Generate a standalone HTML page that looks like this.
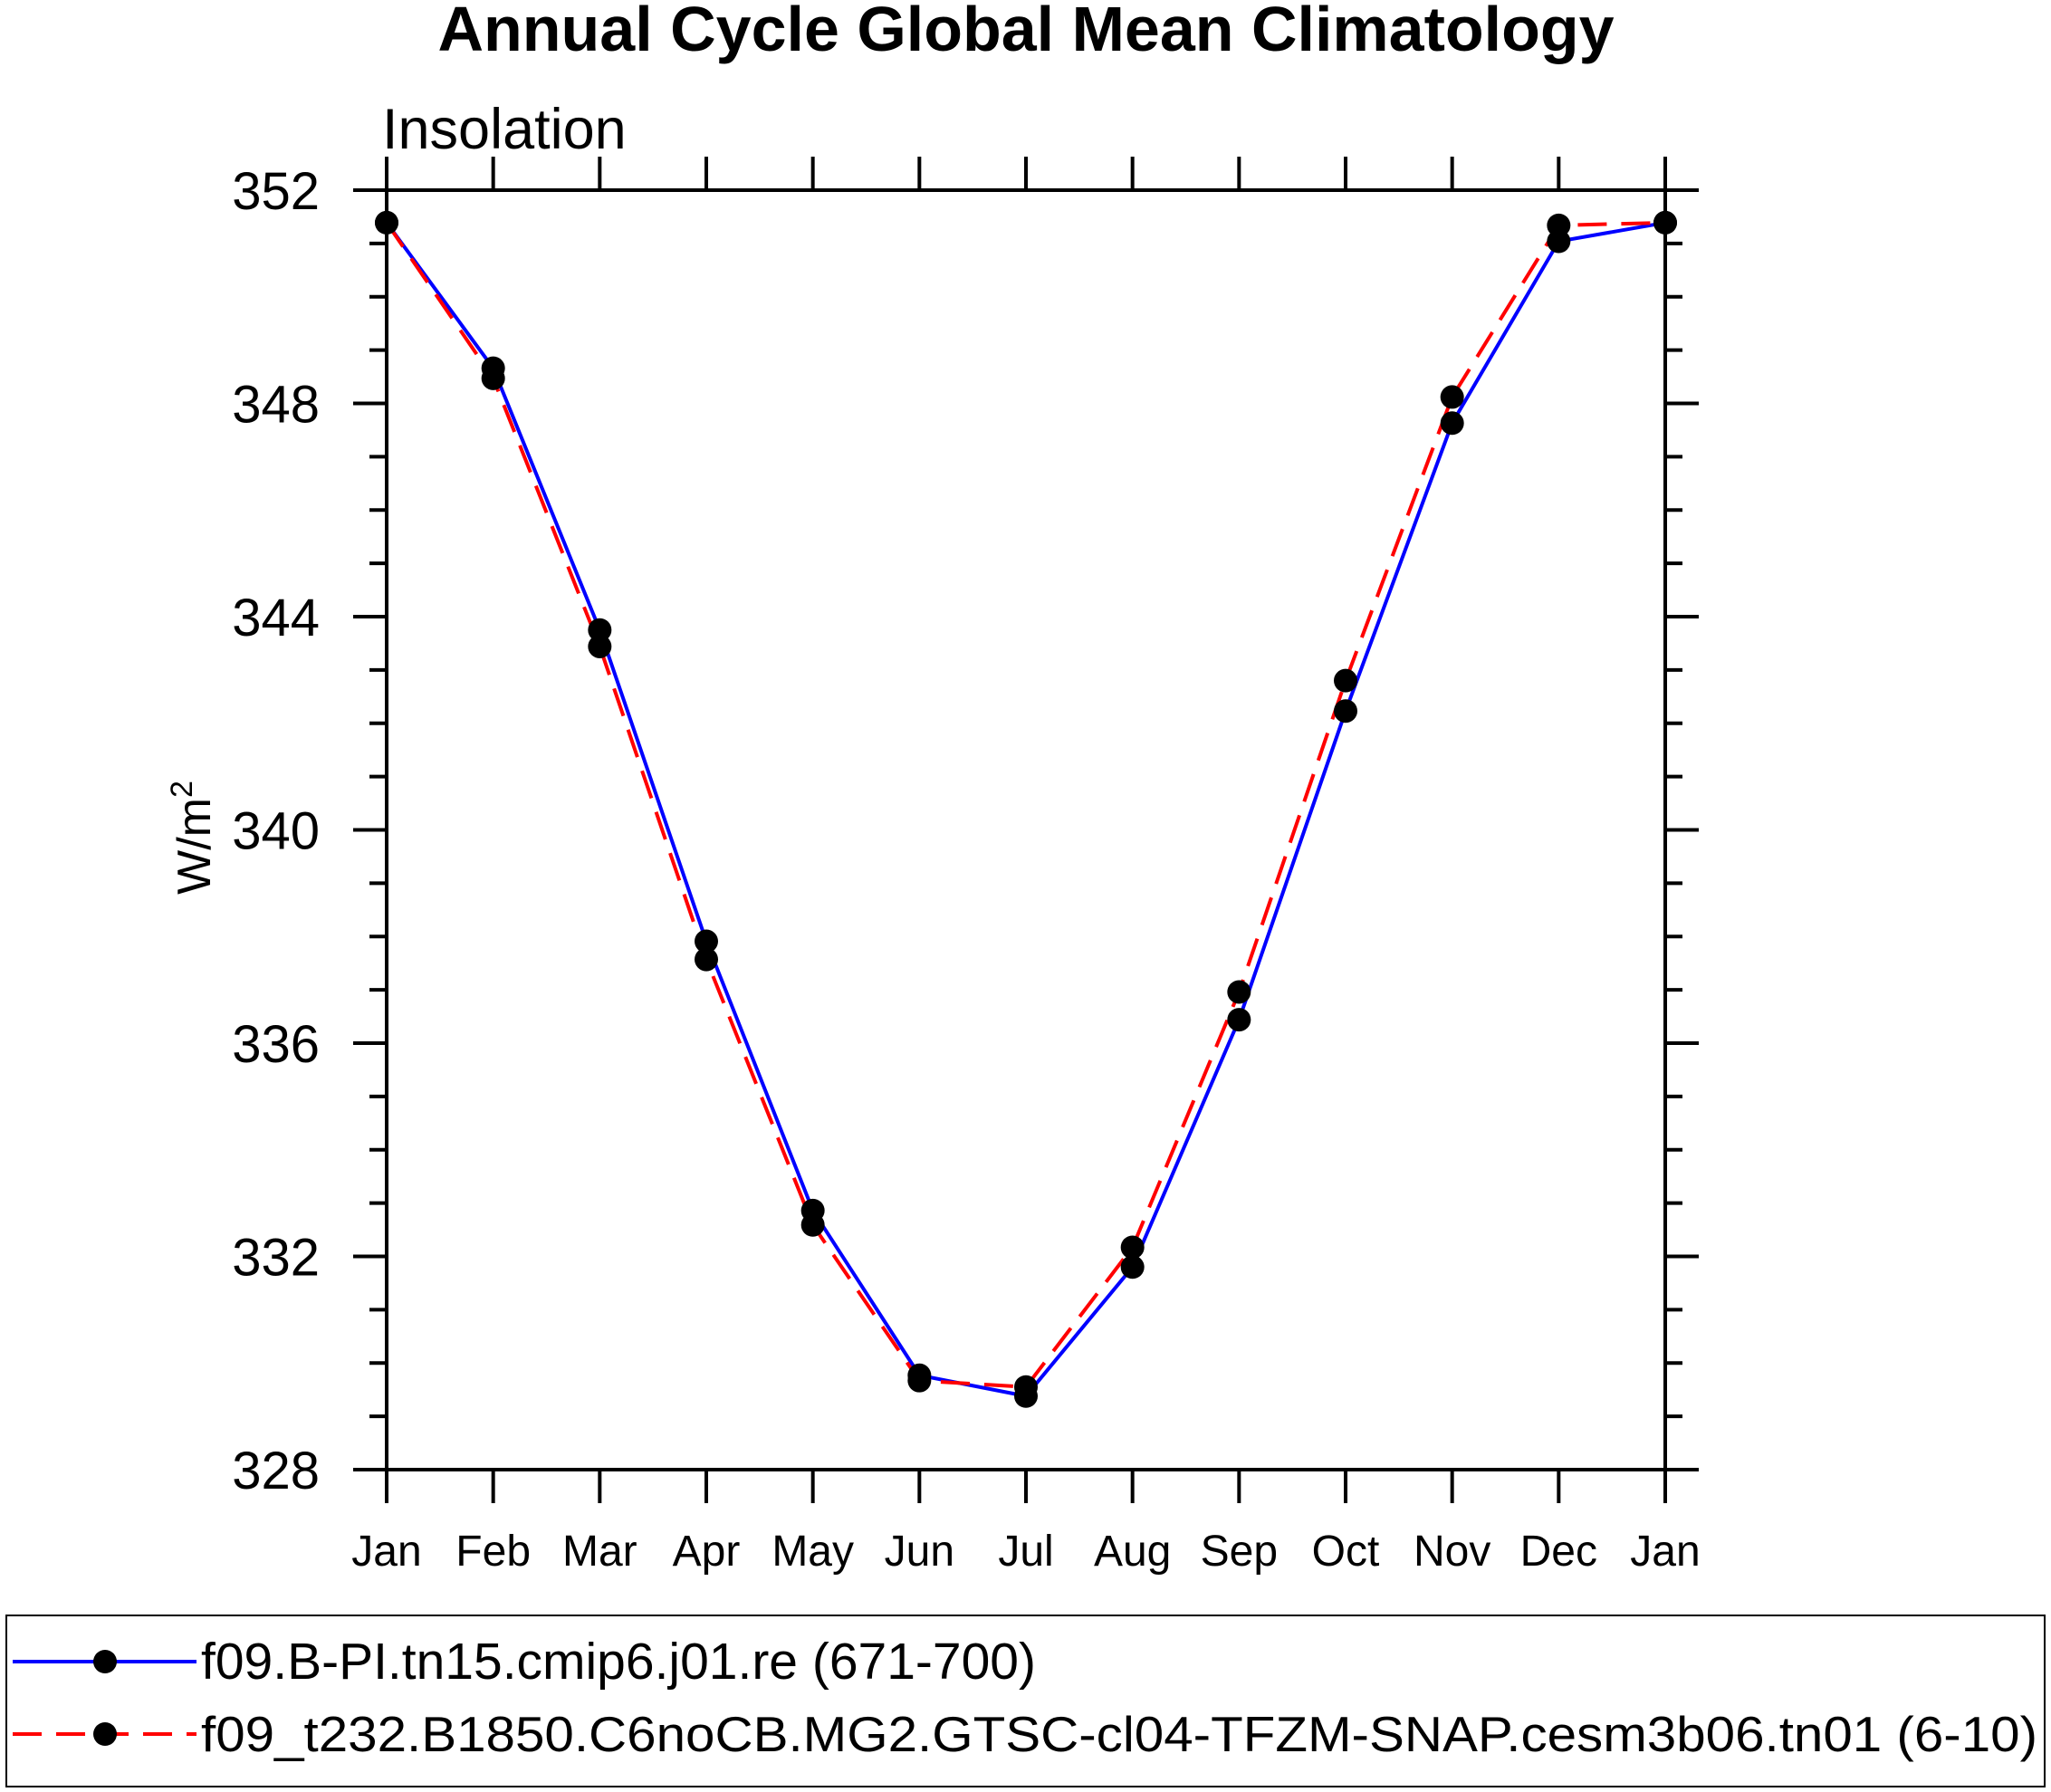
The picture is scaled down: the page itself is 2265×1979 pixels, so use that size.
<!DOCTYPE html>
<html><head><meta charset="utf-8"><style>
html,body{margin:0;padding:0;background:#fff}
svg{display:block;font-family:"Liberation Sans",sans-serif}
</style></head><body>
<svg id="chart" width="2265" height="1979" viewBox="0 0 2265 1979">
<text x="1133" y="56" font-size="70" font-weight="bold" text-anchor="middle">Annual Cycle Global Mean Climatology</text>
<text x="422" y="164" font-size="63">Insolation</text>
<g id="axes"></g>
<g id="series"></g>
<text transform="translate(232,925) rotate(-90)" font-size="52" text-anchor="middle">W/m<tspan dy="-20" font-size="34">2</tspan></text>
<rect x="7" y="1784" width="2251" height="189" fill="none" stroke="#000" stroke-width="2"/>
<g>
<line x1="14" y1="1835" x2="217" y2="1835" stroke="#0000ff" stroke-width="4"/>
<circle cx="116" cy="1835" r="13" fill="#000"/>
<text x="222" y="1854" font-size="57">f09.B-PI.tn15.cmip6.j01.re (671-700)</text>
</g>
<g>
<line x1="14" y1="1915" x2="217" y2="1915" stroke="#ff0000" stroke-width="4" stroke-dasharray="32,16"/>
<circle cx="116" cy="1915" r="13" fill="#000"/>
<text x="222" y="1934" font-size="55" textLength="2028" lengthAdjust="spacingAndGlyphs">f09_t232.B1850.C6noCB.MG2.GTSC-cl04-TFZM-SNAP.cesm3b06.tn01 (6-10)</text>
</g>
</svg>
<script>
const months = ["Jan","Feb","Mar","Apr","May","Jun","Jul","Aug","Sep","Oct","Nov","Dec","Jan"];
const blueValues = [351.39,348.66,343.75,337.91,332.86,329.77,329.38,331.80,336.44,342.23,347.63,351.04,351.39];
const redValues = [351.39,348.47,343.44,337.57,332.59,329.67,329.55,332.17,336.96,342.80,348.12,351.34,351.39];
const yTicks = [328,332,336,340,344,348,352];

const X0=427, X1=1839, Y0=210, Y1=1623, VMIN=328, VMAX=352;
function xs(i){return X0+(X1-X0)*i/(months.length-1);}
function ys(v){return Y1-(v-VMIN)/(VMAX-VMIN)*(Y1-Y0);}
const NS="http://www.w3.org/2000/svg";
function mk(tag,attrs,parent){const e=document.createElementNS(NS,tag);for(const k in attrs)e.setAttribute(k,attrs[k]);parent.appendChild(e);return e;}
const ax=document.getElementById('axes');
const frame=mk('rect',{x:X0,y:Y0,width:X1-X0,height:Y1-Y0,fill:'none',stroke:'#000','stroke-width':4},ax);


for(let v=VMIN;v<=VMAX;v++){
  const y=ys(v), major=(v%4===0), L=major?37:19;
  mk('line',{x1:X0-L,y1:y,x2:X0,y2:y,stroke:'#000','stroke-width':4},ax);
  mk('line',{x1:X1,y1:y,x2:X1+L,y2:y,stroke:'#000','stroke-width':4},ax);
}
yTicks.forEach(v=>{
  const t=mk('text',{x:353,y:ys(v)+21,'font-size':58,'text-anchor':'end'},ax);
  t.textContent=v;
  
  
});
months.forEach((m,i)=>{
  const x=xs(i);
  mk('line',{x1:x,y1:Y0-37,x2:x,y2:Y0,stroke:'#000','stroke-width':4},ax);
  mk('line',{x1:x,y1:Y1,x2:x,y2:Y1+37,stroke:'#000','stroke-width':4},ax);
  const t=mk('text',{x:x,y:1729,'font-size':48,'text-anchor':'middle'},ax);
  t.textContent=m;
  
  
});
const sg=document.getElementById('series');
function drawSeries(vals,color,dash,name){
  const pts=vals.map((v,i)=>xs(i)+','+ys(v)).join(' ');
  const pl=mk('polyline',{points:pts,fill:'none',stroke:color,'stroke-width':4},sg);
  if(dash)pl.setAttribute('stroke-dasharray',dash);
  
  
}
function drawDots(vals,name){
  vals.forEach((v,i)=>{
    const c=mk('circle',{cx:xs(i),cy:ys(v),r:13,fill:'#000'},sg);
    
    
  });
}
drawSeries(blueValues,'#0000ff',null,'blue-series');
drawSeries(redValues,'#ff0000','32,16','red-series');
drawDots(blueValues,'blue-series');
drawDots(redValues,'red-series');
</script>
</body></html>
